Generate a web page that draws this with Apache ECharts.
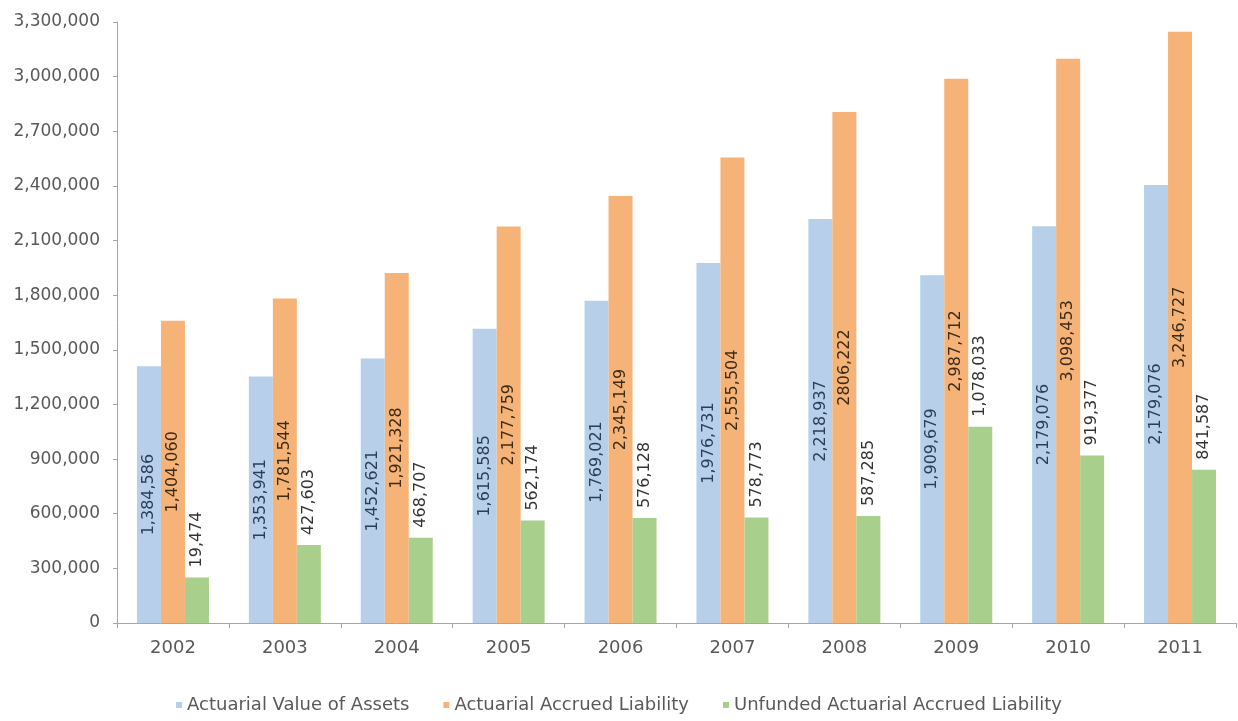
<!DOCTYPE html>
<html><head><meta charset="utf-8">
<script src="https://cdn.jsdelivr.net/npm/echarts@6/dist/echarts.min.js"></script>
<style>html,body{margin:0;padding:0;background:#fff}#c{width:1238px;height:721px}</style>
</head><body><div id="c"></div>
<script>
const categories = ['2002','2003','2004','2005','2006','2007','2008','2009','2010','2011'];
const seriesNames = ['Actuarial Value of Assets','Actuarial Accrued Liability','Unfunded Actuarial Accrued Liability'];
const assets = [1410000,1353941,1452621,1615585,1769021,1976731,2218937,1909679,2179076,2405000];
const liability = [1660000,1781544,1921328,2177759,2345149,2555504,2806222,2987712,3098453,3246727];
const unfunded = [250000,427603,468707,562174,576128,578773,587285,1078033,919377,841587];
const assetsLabels = ['1,384,586','1,353,941','1,452,621','1,615,585','1,769,021','1,976,731','2,218,937','1,909,679','2,179,076','2,179,076'];
const liabilityLabels = ['1,404,060','1,781,544','1,921,328','2,177,759','2,345,149','2,555,504','2806,222','2,987,712','3,098,453','3,246,727'];
const unfundedLabels = ['19,474','427,603','468,707','562,174','576,128','578,773','587,285','1,078,033','919,377','841,587'];

const FONT = 'DejaVu Sans';
function mk(name, vals, labels, color, labColor, pos) {
  return {
    name: name, type: 'bar', barWidth: 24, barGap: '0%',
    itemStyle: { color: color },
    label: {
      show: true, rotate: 90, position: pos,
      align: pos === 'top' ? 'left' : 'center', verticalAlign: 'middle',
      distance: 10, color: labColor, fontFamily: FONT, fontSize: 16,
      formatter: function (p) { return labels[p.dataIndex]; }
    },
    data: vals
  };
}
const chart = echarts.init(document.getElementById('c'));
chart.setOption({
  animation: false,
  backgroundColor: '#fff',
  grid: { left: 117, right: 2, top: 22, bottom: 98 },
  legend: {
    bottom: 2, left: 'center', itemWidth: 6, itemHeight: 6, itemGap: 34,
    icon: 'rect',
    textStyle: { fontFamily: FONT, fontSize: 18, color: '#595959' },
    data: seriesNames
  },
  xAxis: {
    type: 'category', data: categories,
    axisLine: { lineStyle: { color: '#a6a6a6' } },
    axisTick: { show: true, length: 5, lineStyle: { color: '#a6a6a6' } },
    axisLabel: { fontFamily: FONT, fontSize: 18, color: '#595959', margin: 16 }
  },
  yAxis: {
    type: 'value', min: 0, max: 3300000, interval: 300000,
    axisLine: { show: true, lineStyle: { color: '#a6a6a6' } },
    axisTick: { show: true, length: 4, lineStyle: { color: '#a6a6a6' } },
    splitLine: { show: false },
    axisLabel: {
      fontFamily: FONT, fontSize: 17, color: '#595959', margin: 17,
      formatter: function (v) { return v.toLocaleString('en-US'); }
    }
  },
  series: [
    mk(seriesNames[0], assets, assetsLabels, '#b8cfe9', '#2b3d5c', 'inside'),
    mk(seriesNames[1], liability, liabilityLabels, '#f5b378', '#3d2b18', 'inside'),
    mk(seriesNames[2], unfunded, unfundedLabels, '#a9cf8c', '#333333', 'top')
  ]
});
</script></body></html>
